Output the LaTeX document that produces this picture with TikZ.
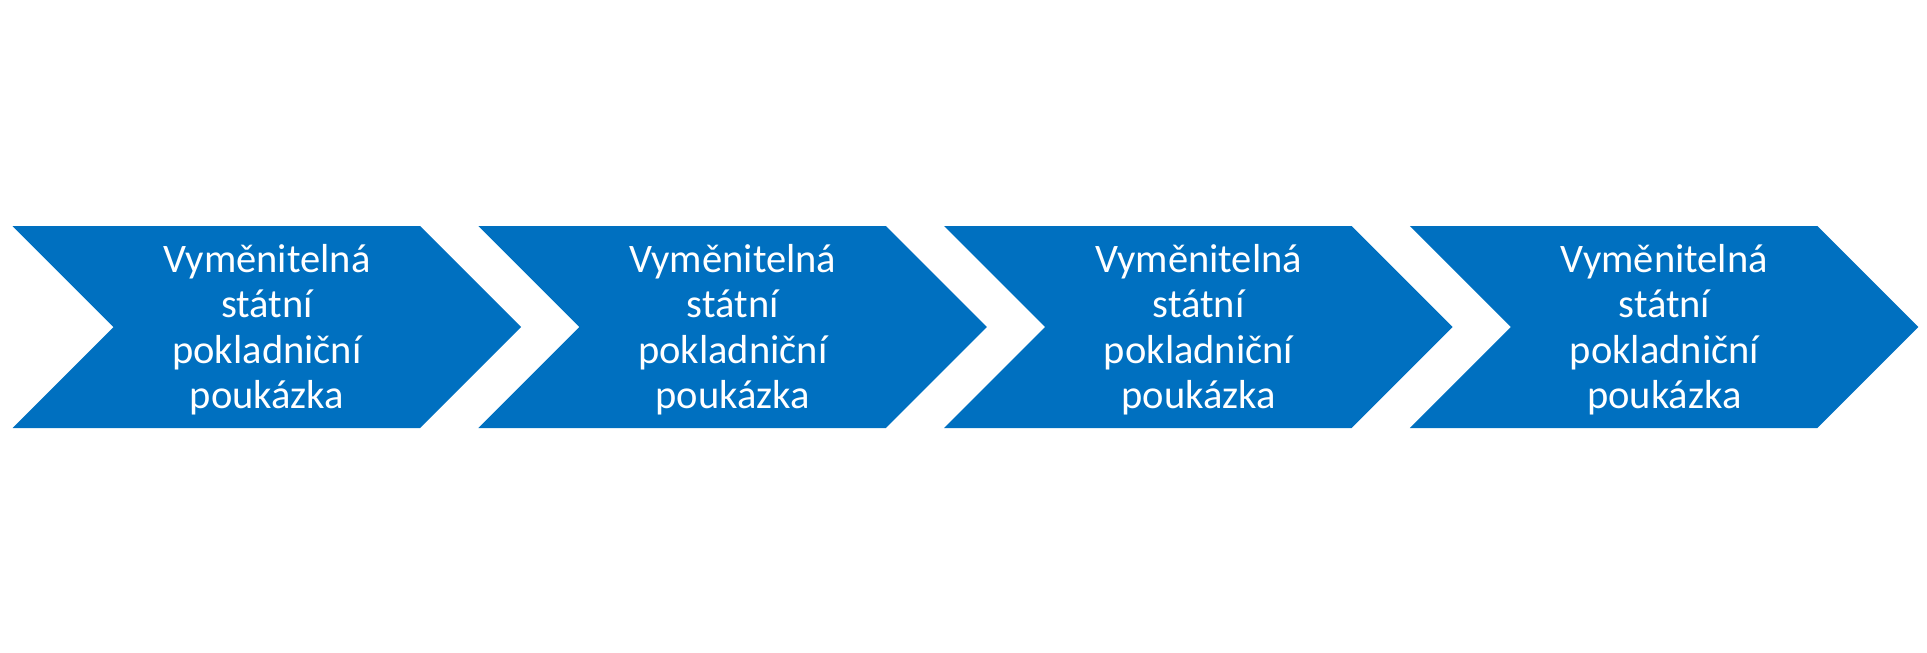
\documentclass[tikz,border=0pt]{standalone}
\usepackage{fontspec}
\setmainfont{Carlito}
\definecolor{chevblue}{RGB}{0,112,192}
\tikzset{
  chevron/.style={fill=chevblue, draw=none},
  chevlabel/.style={text=white, align=center, font=\fontsize{40.5}{45.5}\selectfont, inner sep=0pt}
}
\begin{document}
\begin{tikzpicture}[x=1pt,y=-1pt]
\useasboundingbox (0,0) rectangle (1927,653);
\foreach \i in {0,1,2,3}{
  \pgfmathsetmacro{\xo}{12.5+465.8*\i}
  \fill[chevron] (\xo,226) -- (\xo+407.5,226) -- (\xo+508.5,327) -- (\xo+407.5,428) -- (\xo,428) -- (\xo+101,327) -- cycle;
  \node[chevlabel] (t\i) at (\xo+254.5,329.5) {Vyměnitelná\\státní\\pokladniční\\poukázka};
}
\end{tikzpicture}
\end{document}
